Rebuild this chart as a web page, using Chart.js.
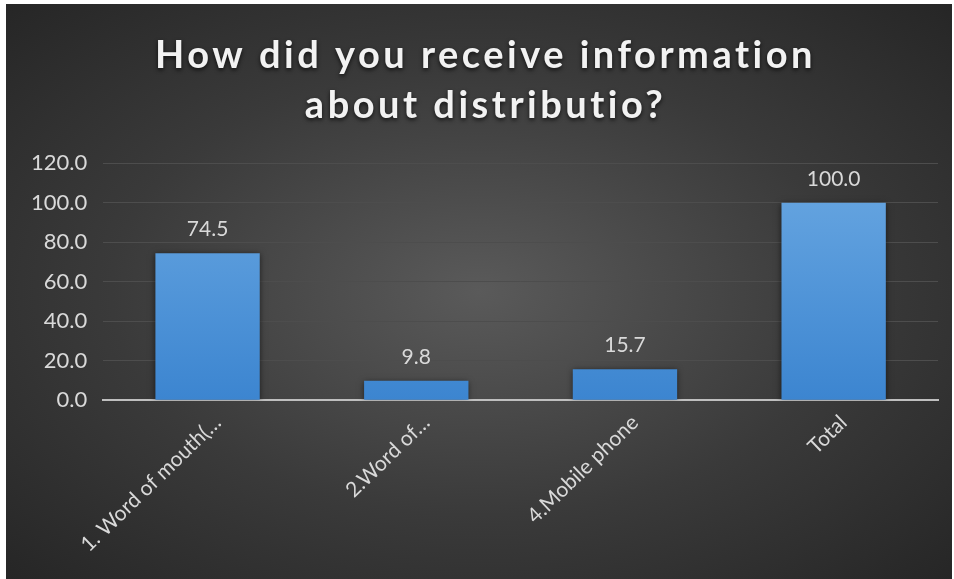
<!DOCTYPE html>
<html>
<head>
<meta charset="utf-8">
<title>How did you receive information about distributio?</title>
<script src="https://cdn.jsdelivr.net/npm/chart.js@4.4.1/dist/chart.umd.min.js"></script>
<style>
    html, body { margin: 0; padding: 0; background: #ffffff; }
    #frame {
        position: absolute;
        left: 6px;
        top: 4px;
        width: 946px;
        height: 575px;
        background: radial-gradient(ellipse at 50% 50%, #5a5a5a 0%, #3a3a3a 55%, #262626 100%);
    }
</style>
</head>
<body>
<div id="frame"><canvas id="chart" width="946" height="575"></canvas></div>
<script>
const categories = ["1. Word of mouth(\u2026", "2.Word of\u2026", "4.Mobile phone", "Total"];
const percentValues = [74.5, 9.8, 15.7, 100.0];
const yTicks = [0, 20, 40, 60, 80, 100, 120];

const textColor = "#d9d9d9";
const fontFamily = "Lato, 'Open Sans', sans-serif";

// Draws the figures above each bar
const valueLabels = {
    id: "valueLabels",
    afterDatasetsDraw(chart) {
        const ctx = chart.ctx;
        const meta = chart.getDatasetMeta(0);
        ctx.save();
        ctx.font = "21px " + fontFamily;
        ctx.fillStyle = textColor;
        ctx.textAlign = "center";
        ctx.textBaseline = "bottom";
        meta.data.forEach((bar, i) => {
            const value = chart.data.datasets[0].data[i];
            ctx.fillText(value.toFixed(1), bar.x, bar.y - 13);
        });
        ctx.restore();
    }
};

// Soft shadow behind the bars
const barShadow = {
    id: "barShadow",
    beforeDatasetsDraw(chart) {
        const ctx = chart.ctx;
        ctx.save();
        ctx.shadowColor = "rgba(0, 0, 0, 0.55)";
        ctx.shadowBlur = 6;
        ctx.shadowOffsetY = 1;
    },
    afterDatasetsDraw(chart) {
        chart.ctx.restore();
    }
};

// Wide letter spacing and a drop shadow on the title block
const spacedTitle = {
    id: "spacedTitle",
    afterInit(chart) {
        const block = chart.titleBlock;
        const draw = block.draw.bind(block);
        block.draw = function () {
            const ctx = chart.ctx;
            ctx.save();
            ctx.translate(9, 1);
            ctx.letterSpacing = "3.5px";
            ctx.shadowColor = "rgba(0, 0, 0, 0.7)";
            ctx.shadowBlur = 4;
            ctx.shadowOffsetY = 2;
            draw();
            ctx.restore();
        };
    }
};

function barGradient(context) {
    const chart = context.chart;
    const area = chart.chartArea;
    if (!area) return "#4a90d9";
    const g = chart.ctx.createLinearGradient(0, area.top, 0, area.bottom);
    g.addColorStop(0, "#6aa8e2");
    g.addColorStop(1, "#3c85d0");
    return g;
}

new Chart(document.getElementById("chart"), {
    type: "bar",
    data: {
        labels: categories,
        datasets: [{
            data: percentValues,
            backgroundColor: barGradient,
            borderWidth: 0,
            categoryPercentage: 1.0,
            barPercentage: 0.5
        }]
    },
    options: {
        responsive: false,
        animation: false,
        layout: {
            padding: { left: 9, right: 14, top: 0, bottom: 20 }
        },
        plugins: {
            legend: { display: false },
            tooltip: { enabled: false },
            title: {
                display: true,
                text: ["How did you receive information", "about distributio?"],
                color: "#f2f2f2",
                font: { family: fontFamily, size: 38, weight: "bold", lineHeight: 1.32 },
                padding: { top: 26, bottom: 33 }
            }
        },
        scales: {
            x: {
                grid: { display: false },
                border: { display: true, color: "#bfbfbf", width: 2 },
                ticks: {
                    color: textColor,
                    font: { family: fontFamily, size: 21 },
                    minRotation: 44,
                    maxRotation: 44,
                    labelOffset: 10,
                    padding: 2
                }
            },
            y: {
                min: 0,
                max: 120,
                afterBuildTicks(scale) {
                    scale.ticks = yTicks.map(v => ({ value: v }));
                },
                grid: { color: "#4d4d4d", lineWidth: 1, drawTicks: false },
                border: { display: false },
                ticks: {
                    color: textColor,
                    font: { family: fontFamily, size: 22 },
                    padding: 16,
                    callback: v => v.toFixed(1)
                }
            }
        }
    },
    plugins: [spacedTitle, barShadow, valueLabels]
});
</script>
</body>
</html>
